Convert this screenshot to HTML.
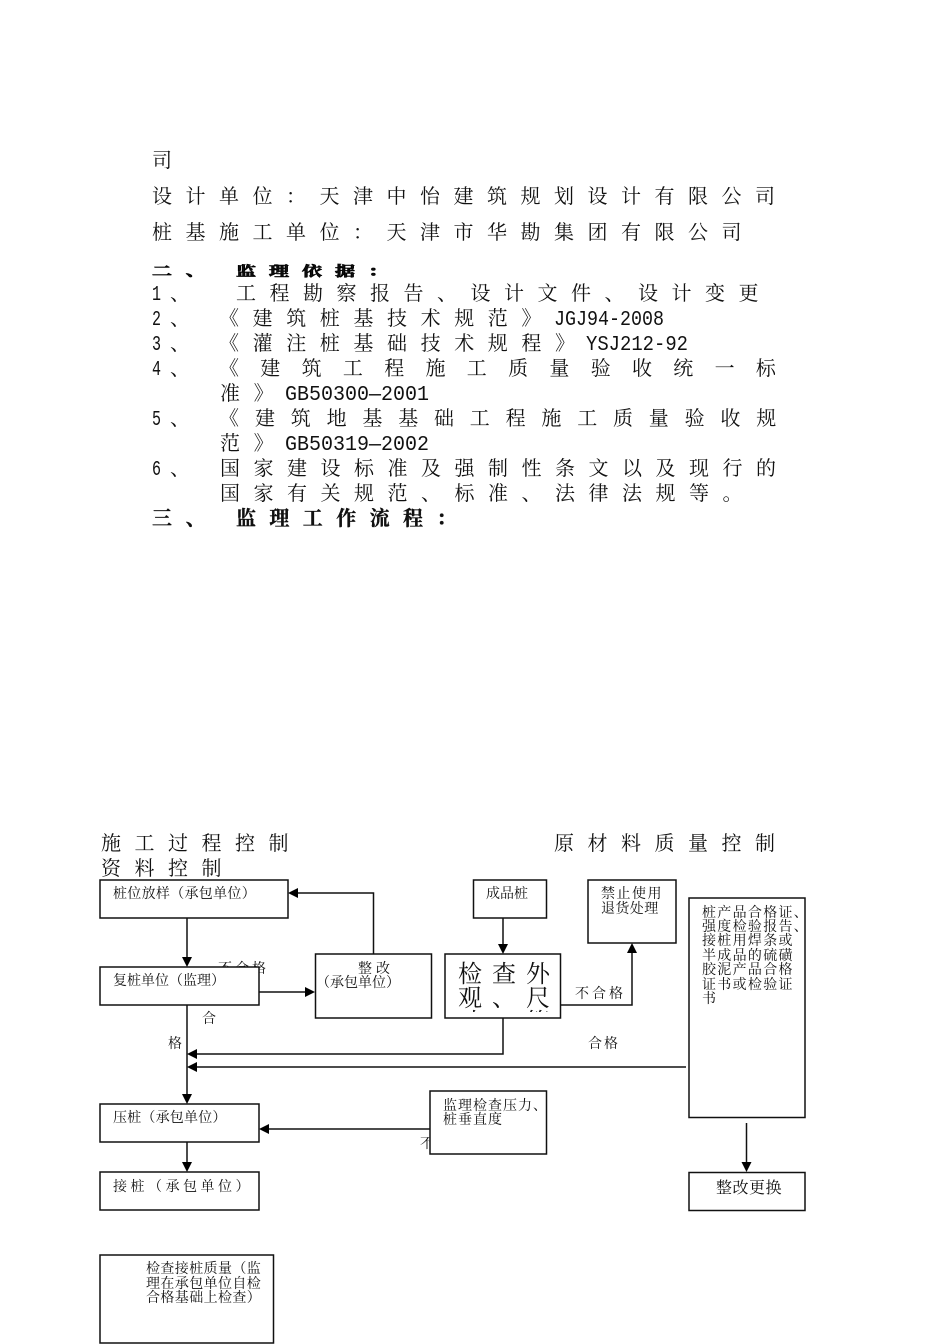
<!DOCTYPE html>
<html lang="zh">
<head>
<meta charset="utf-8">
<title>监理工作流程</title>
<style>
html,body{margin:0;padding:0;background:#fff;width:950px;height:1344px;overflow:hidden}
svg{display:block}
text{font-family:"Liberation Mono","Noto Serif CJK SC",serif;fill:#111;white-space:pre}
.c{font-family:"Noto Serif CJK SC",serif}
.m{font-size:20px;letter-spacing:13.6px}
.b{font-weight:700;font-size:20px;letter-spacing:13.6px;stroke:#000;stroke-width:.3px}
.h{stroke-width:1px}
.s{font-size:14px}
.l{font-family:"Liberation Mono",monospace;font-size:21px;letter-spacing:0}
rect{fill:#fff;stroke:#111;stroke-width:1.5}
line,polyline{fill:none;stroke:#111;stroke-width:1.5}
polygon{fill:#000}
</style>
</head>
<body>
<svg width="950" height="1344" viewBox="0 0 950 1344" xmlns="http://www.w3.org/2000/svg">
<!-- body text -->
<g class="c">
<text class="c m" x="152" y="167">司</text>
<text class="c m" x="152" y="203" style="letter-spacing:13.5px">设计单位：天津中怡建筑规划设计有限公司</text>
<text class="c m" x="152" y="239" style="letter-spacing:13.5px">桩基施工单位：天津市华勘集团有限公司</text>
<g transform="translate(0,276) scale(1,0.68)"><text class="c b h" x="152" y="0">二、</text><text class="c b h" x="236" y="0" style="letter-spacing:13px">监理依据：</text></g>
<text class="l" x="152" y="300" textLength="9" lengthAdjust="spacingAndGlyphs">1</text><text class="c m" x="170" y="300">、</text>
<text class="c m" x="236" y="300" style="letter-spacing:13.5px">工程勘察报告、设计文件、设计变更</text>
<text class="l" x="152" y="325" textLength="9" lengthAdjust="spacingAndGlyphs">2</text><text class="c m" x="170" y="325">、</text>
<text class="c m" x="219" y="325">《建筑桩基技术规范》</text><text class="l" x="554" y="325" textLength="110" lengthAdjust="spacingAndGlyphs">JGJ94-2008</text>
<text class="l" x="152" y="350" textLength="9" lengthAdjust="spacingAndGlyphs">3</text><text class="c m" x="170" y="350">、</text>
<text class="c m" x="219" y="350">《灌注桩基础技术规程》</text><text class="l" x="586" y="350" textLength="102" lengthAdjust="spacingAndGlyphs">YSJ212-92</text>
<text class="l" x="152" y="375" textLength="9" lengthAdjust="spacingAndGlyphs">4</text><text class="c m" x="170" y="375">、</text>
<text class="c m" x="219" y="375" style="letter-spacing:21.3px">《建筑工程施工质量验收统一标</text>
<text class="c m" x="220" y="400">准》</text><text class="l" x="285" y="400" textLength="144" lengthAdjust="spacingAndGlyphs">GB50300—2001</text>
<text class="l" x="152" y="425" textLength="9" lengthAdjust="spacingAndGlyphs">5</text><text class="c m" x="170" y="425">、</text>
<text class="c m" x="219" y="425" style="letter-spacing:0">《</text>
<text class="c m" x="255" y="425" style="letter-spacing:15.8px">建筑地基基础工程施工质量验收规</text>
<text class="c m" x="220" y="450">范》</text><text class="l" x="285" y="450" textLength="144" lengthAdjust="spacingAndGlyphs">GB50319—2002</text>
<text class="l" x="152" y="475" textLength="9" lengthAdjust="spacingAndGlyphs">6</text><text class="c m" x="170" y="475">、</text>
<text class="c m" x="220" y="475" style="letter-spacing:13.5px">国家建设标准及强制性条文以及现行的</text>
<text class="c m" x="220" y="500" style="letter-spacing:13.5px">国家有关规范、标准、法律法规等。</text>
<text class="c b" x="152" y="525">三、</text><text class="c b" x="236" y="525" style="letter-spacing:13.4px">监理工作流程：</text>
<text class="c m" x="101" y="850" style="letter-spacing:13.5px">施工过程控制</text>
<text class="c m" x="101" y="875" style="letter-spacing:13.5px">资料控制</text>
<text class="c m" x="554" y="850" style="letter-spacing:13.5px">原材料质量控制</text>
</g>
<!-- labels beneath boxes -->
<text class="c s" x="218" y="973" style="letter-spacing:3px">不合格</text>
<text class="c s" x="420" y="1148">不</text>
<!-- connectors -->
<line x1="187" y1="918" x2="187" y2="959"/>
<polyline points="373.5,954 373.5,893 296,893"/>
<line x1="259" y1="992" x2="307" y2="992"/>
<line x1="187" y1="1005" x2="187" y2="1096"/>
<polyline points="503,1018 503,1054 195,1054"/>
<line x1="686" y1="1067" x2="195" y2="1067"/>
<line x1="503" y1="918" x2="503" y2="946"/>
<polyline points="560,1005 632,1005 632,951"/>
<line x1="430" y1="1129" x2="267" y2="1129"/>
<line x1="187" y1="1142" x2="187" y2="1164"/>
<line x1="746.5" y1="1123" x2="746.5" y2="1164"/>
<polygon points="182,957 192,957 187,967"/>
<polygon points="298,888 298,898 288,893"/>
<polygon points="305,987 305,997 315,992"/>
<polygon points="182,1094 192,1094 187,1104"/>
<polygon points="197,1049 197,1059 187,1054"/>
<polygon points="197,1062 197,1072 187,1067"/>
<polygon points="498,944 508,944 503,954"/>
<polygon points="627,953 637,953 632,943"/>
<polygon points="269,1124 269,1134 259,1129"/>
<polygon points="182,1162 192,1162 187,1172"/>
<polygon points="741.500,1162 751.500,1162 746.500,1172"/>
<!-- boxes -->
<rect x="100" y="880" width="188" height="38"/>
<rect x="100" y="967" width="159" height="38"/>
<rect x="315.500" y="954" width="116" height="64"/>
<rect x="445" y="954" width="115.500" height="64"/>
<rect x="473.500" y="880" width="73" height="38"/>
<rect x="588" y="880" width="88" height="63"/>
<rect x="689" y="898" width="116" height="219.500"/>
<rect x="100" y="1104" width="159" height="38"/>
<rect x="100" y="1172" width="159" height="38"/>
<rect x="100" y="1255" width="173.500" height="88"/>
<rect x="430" y="1091" width="116.500" height="63"/>
<rect x="689" y="1172.500" width="116" height="38"/>
<!-- box text -->
<g>
<text class="c s" x="113" y="898" style="letter-spacing:.3px">桩位放样（承包单位）</text>
<text class="c s" x="113" y="985">复桩单位（监理）</text>
<text class="c s" x="358" y="973" style="letter-spacing:4px">整改</text>
<text class="c s" x="316" y="987" style="letter-spacing:0">（承包单位）</text>
<text class="c s" x="486" y="898">成品桩</text>
<text class="c s" x="601" y="898" style="letter-spacing:1.500px">禁止使用</text>
<text class="c s" x="601" y="913" style="letter-spacing:.400px">退货处理</text>
<text class="c s" x="702" y="917" style="letter-spacing:1.300px">桩产品合格证、</text>
<text class="c s" x="702" y="931" style="letter-spacing:1.300px">强度检验报告、</text>
<text class="c s" x="702" y="945" style="letter-spacing:1.300px">接桩用焊条或</text>
<text class="c s" x="702" y="960" style="letter-spacing:1.300px">半成品的硫磺</text>
<text class="c s" x="702" y="974" style="letter-spacing:1.300px">胶泥产品合格</text>
<text class="c s" x="702" y="989" style="letter-spacing:1.300px">证书或检验证</text>
<text class="c s" x="702" y="1003">书</text>
<text class="c s" x="575" y="998" style="letter-spacing:3px">不合格</text>
<text class="c s" x="588" y="1048" style="letter-spacing:2px">合格</text>
<text class="c s" x="202" y="1023">合</text>
<text class="c s" x="168" y="1048">格</text>
<text class="c s" x="113" y="1122" style="letter-spacing:.2px">压桩（承包单位）</text>
<text class="c s" x="113" y="1191" style="letter-spacing:3.500px">接桩（承包单位）</text>
<text class="c s" x="443" y="1110" style="letter-spacing:1px">监理检查压力、</text>
<text class="c s" x="443" y="1124" style="letter-spacing:1px">桩垂直度</text>
<text class="c s" x="146" y="1273" style="letter-spacing:.400px">检查接桩质量（监</text>
<text class="c s" x="146" y="1288" style="letter-spacing:.400px">理在承包单位自检</text>
<text class="c s" x="146" y="1302" style="letter-spacing:.400px">合格基础上检查）</text>
<text class="c" x="716" y="1193" style="font-size:16px;letter-spacing:.500px">整改更换</text>
</g>
<!-- clipped large text -->
<svg x="446" y="955" width="113" height="57" viewBox="446 955 113 57">
<text class="c" x="458" y="982" style="font-size:24px;letter-spacing:10px">检查外</text>
<text class="c" x="458" y="1006" style="font-size:24px;letter-spacing:10px">观、尺</text>
<text class="c" x="458" y="1030" style="font-size:24px;letter-spacing:10px">寸、等</text>
</svg>
</svg>
</body>
</html>
